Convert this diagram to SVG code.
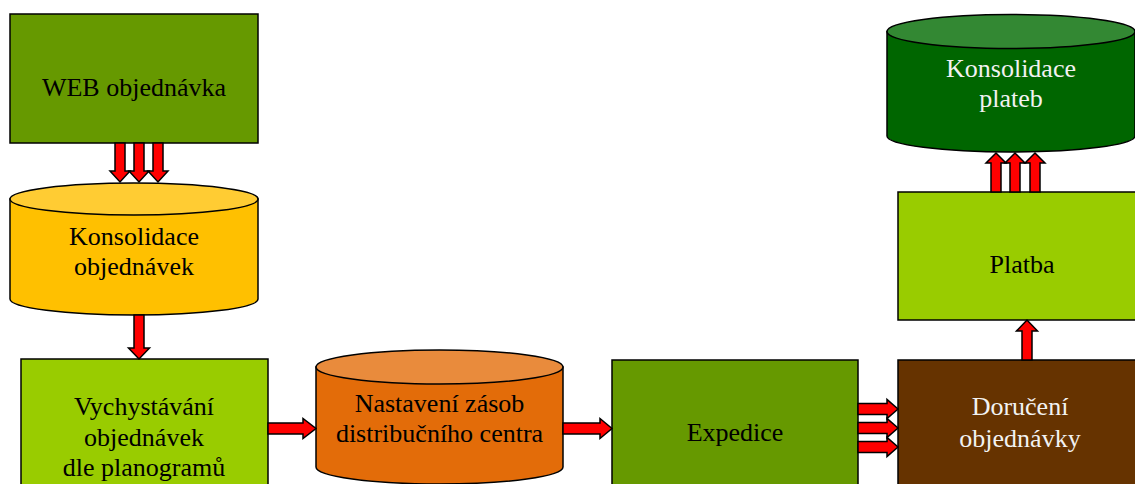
<svg xmlns="http://www.w3.org/2000/svg" width="1135" height="484" viewBox="0 0 1135 484">
  <style>
    .box { stroke: #000; stroke-width: 1.5; }
    .lbl { font-family: "Liberation Serif", "Times New Roman", serif; font-size: 26px; text-anchor: middle; fill: #000; }
    .lbl.light { fill: #F2F2F2; }
    .arrow { fill: #FF0000; stroke: #000; stroke-width: 1.5; stroke-linejoin: miter; }
  </style>
  <rect width="1135" height="484" fill="#fff"/>

  <!-- nodes -->
  <g id="web-objednavka">
    <rect class="box" x="10" y="14" width="248" height="129" fill="#669900"/>
    <text class="lbl" x="134" y="96">WEB objednávka</text>
  </g>

  <g id="konsolidace-objednavek">
    <path class="box" d="M10,199 V299 A124,16 0 0 0 258,299 V199 Z" fill="#FFC000"/>
    <ellipse class="box" cx="134" cy="199" rx="124" ry="16" fill="#FFCC33"/>
    <text class="lbl" x="134" y="245">Konsolidace</text>
    <text class="lbl" x="134" y="275">objednávek</text>
  </g>

  <g id="vychystavani">
    <rect class="box" x="21" y="359" width="247" height="140" fill="#99CC00"/>
    <text class="lbl" x="144" y="415">Vychystávání</text>
    <text class="lbl" x="144" y="446">objednávek</text>
    <text class="lbl" x="144" y="476">dle planogramů</text>
  </g>

  <g id="nastaveni-zasob">
    <path class="box" d="M316,367 V467 A123.5,17 0 0 0 563,467 V367 Z" fill="#E36C09"/>
    <ellipse class="box" cx="439.5" cy="367" rx="123.5" ry="17" fill="#E98B3C"/>
    <text class="lbl" x="439.5" y="412">Nastavení zásob</text>
    <text class="lbl" x="439.5" y="442">distribučního centra</text>
  </g>

  <g id="expedice">
    <rect class="box" x="612" y="360" width="246" height="140" fill="#669900"/>
    <text class="lbl" x="735" y="441">Expedice</text>
  </g>

  <g id="doruceni">
    <rect class="box" x="898" y="360" width="250" height="140" fill="#663300"/>
    <text class="lbl light" x="1020" y="415">Doručení</text>
    <text class="lbl light" x="1020" y="447">objednávky</text>
  </g>

  <g id="platba">
    <rect class="box" x="898" y="192" width="250" height="128" fill="#99CC00"/>
    <text class="lbl" x="1022" y="273">Platba</text>
  </g>

  <g id="konsolidace-plateb">
    <path class="box" d="M887,31.5 V136 A124,16 0 0 0 1135,136 V31.5 Z" fill="#006600"/>
    <ellipse class="box" cx="1011" cy="31.5" rx="124" ry="17" fill="#338833"/>
    <text class="lbl light" x="1011" y="77">Konsolidace</text>
    <text class="lbl light" x="1011" y="107">plateb</text>
  </g>

  <!-- connectors: red block arrows -->
  <g id="connectors">
    <!-- WEB objednávka -> Konsolidace objednávek -->
    <polygon class="arrow" points="115,143 125,143 125,171 130,171 120,182 110,171 115,171"/>
    <polygon class="arrow" points="134,143 144,143 144,171 149,171 139,182 129,171 134,171"/>
    <polygon class="arrow" points="153,143 163,143 163,171 168,171 158,182 148,171 153,171"/>

    <!-- Konsolidace objednávek -> Vychystávání -->
    <polygon class="arrow" points="134,315 144,315 144,348 149.5,348 139,359 128.5,348 134,348"/>

    <!-- Vychystávání -> Nastavení zásob -->
    <polygon class="arrow" points="268,423 303,423 303,418.5 316,428.5 303,438.5 303,434 268,434"/>

    <!-- Nastavení zásob -> Expedice -->
    <polygon class="arrow" points="563,423 600,423 600,418.5 612,428.5 600,438.5 600,434 563,434"/>

    <!-- Expedice -> Doručení -->
    <polygon class="arrow" points="858,403.5 887,403.5 887,399.5 898,409 887,418.5 887,414.5 858,414.5"/>
    <polygon class="arrow" points="858,422.5 887,422.5 887,418.5 898,428 887,437.5 887,433.5 858,433.5"/>
    <polygon class="arrow" points="858,441.5 887,441.5 887,437.5 898,447 887,456.5 887,452.5 858,452.5"/>

    <!-- Doručení -> Platba -->
    <polygon class="arrow" points="1022,360 1032,360 1032,331 1037.5,331 1027,320 1016.5,331 1022,331"/>

    <!-- Platba -> Konsolidace plateb -->
    <polygon class="arrow" points="991,192 1001,192 1001,163 1006,163 996,153 986,163 991,163"/>
    <polygon class="arrow" points="1010,192 1020,192 1020,163 1025,163 1015,153 1005,163 1010,163"/>
    <polygon class="arrow" points="1030,192 1040,192 1040,163 1045,163 1035,153 1025,163 1030,163"/>
  </g>
</svg>
